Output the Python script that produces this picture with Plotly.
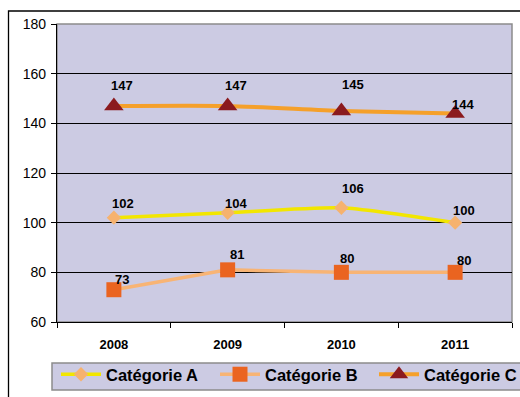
import plotly.graph_objects as go

# Data
years = ["2008", "2009", "2010", "2011"]
cat_a = [102, 104, 106, 100]
cat_b = [73, 81, 80, 80]
cat_c = [147, 147, 145, 144]
series_names = ["Catégorie A", "Catégorie B", "Catégorie C"]
y_ticks = [60, 80, 100, 120, 140, 160, 180]

# Label offsets (px right, px up) for each point's value label
label_shift_a = [(9, 14), (8, 9), (12, 19), (9, 12)]
label_shift_b = [(8, 10), (9, 15), (6, 14), (9, 12)]
label_shift_c = [(8, 20), (8, 20), (12, 26), (8, 9)]

FONT = "Liberation Sans, Arial, sans-serif"
BG = "#CCCBE3"
W, H = 520, 397
ML, MR, MT, MB = 57, 8, 24, 75
PW, PH = W - ML - MR, H - MT - MB

def px_x(p):
    return (p - ML) / PW

def px_y(p):
    return (H - MB - p) / PH

fig = go.Figure()

styles = [
    dict(line=dict(color="#F2E600", width=3.5, shape="spline", smoothing=0.6),
         marker=dict(symbol="diamond", size=11, color="#F6B26E",
                     line=dict(color="#F6B26E", width=0))),
    dict(line=dict(color="#F8B474", width=3.5),
         marker=dict(symbol="square", size=15, color="#EA6420",
                     line=dict(color="#EA6420", width=0))),
    dict(line=dict(color="#F5A02A", width=4, shape="spline", smoothing=0.6),
         marker=dict(symbol="triangle-up", size=17, color="#8B1A1E",
                     line=dict(color="#8B1A1E", width=0))),
]

for name, vals, st in zip(series_names, [cat_a, cat_b, cat_c], styles):
    fig.add_trace(go.Scatter(x=years, y=vals, name=name, mode="lines+markers",
                             cliponaxis=False, **st))

annotations = []
for vals, shifts in [(cat_a, label_shift_a), (cat_b, label_shift_b), (cat_c, label_shift_c)]:
    for i, (v, (dx, dy)) in enumerate(zip(vals, shifts)):
        annotations.append(dict(
            x=i, y=v, xref="x", yref="y", text=f"<b>{v}</b>", showarrow=False,
            xshift=dx, yshift=dy,
            font=dict(family=FONT, size=13, color="#000000"),
        ))

shapes = [
    # plot area frame (grey top/right)
    dict(type="rect", xref="paper", yref="paper", x0=0, y0=0, x1=1, y1=1,
         line=dict(color="#8C8C8C", width=1.5), fillcolor="rgba(0,0,0,0)", layer="below"),
    # outer chart border
    dict(type="rect", xref="paper", yref="paper",
         x0=px_x(8.5), y0=px_y(H + 20), x1=px_x(W + 20), y1=px_y(11),
         line=dict(color="#000000", width=1.3), fillcolor="rgba(0,0,0,0)"),
    # legend box
    dict(type="rect", xref="paper", yref="paper",
         x0=px_x(52), y0=px_y(390), x1=px_x(W + 20), y1=px_y(363),
         line=dict(color="#8C8C8C", width=1.5), fillcolor=BG),
]

fig.update_layout(
    width=W, height=H,
    margin=dict(l=ML, r=MR, t=MT, b=MB, autoexpand=False),
    paper_bgcolor="#FFFFFF",
    plot_bgcolor=BG,
    font=dict(family=FONT, size=12, color="#000000"),
    showlegend=True,
    legend=dict(
        orientation="h", x=px_x(56), xanchor="left", y=px_y(357), yanchor="top",
        bgcolor="rgba(0,0,0,0)", borderwidth=0,
        font=dict(family=FONT, size=16.5, color="#000000", weight="bold"),
        itemwidth=40, entrywidth=104, entrywidthmode="pixels",
        traceorder="normal",
    ),
    annotations=annotations,
    shapes=shapes,
    xaxis=dict(
        type="category", range=[-0.5, 3.5],
        showgrid=False, zeroline=False,
        showline=True, linecolor="#000000", linewidth=1.3,
        ticks="outside", tickson="boundaries", ticklen=5, tickcolor="#000000",
        tickfont=dict(family=FONT, size=13, color="#000000", weight="bold"),
        ticklabelstandoff=10,
    ),
    yaxis=dict(
        range=[60, 180], tickvals=y_ticks,
        showgrid=True, gridcolor="#000000", gridwidth=1,
        zeroline=False,
        showline=True, linecolor="#000000", linewidth=1.3,
        ticks="outside", ticklen=5, tickcolor="#000000",
        tickfont=dict(family=FONT, size=14, color="#000000"),
        ticklabelstandoff=2,
    ),
)

fig.write_html("out.html")
